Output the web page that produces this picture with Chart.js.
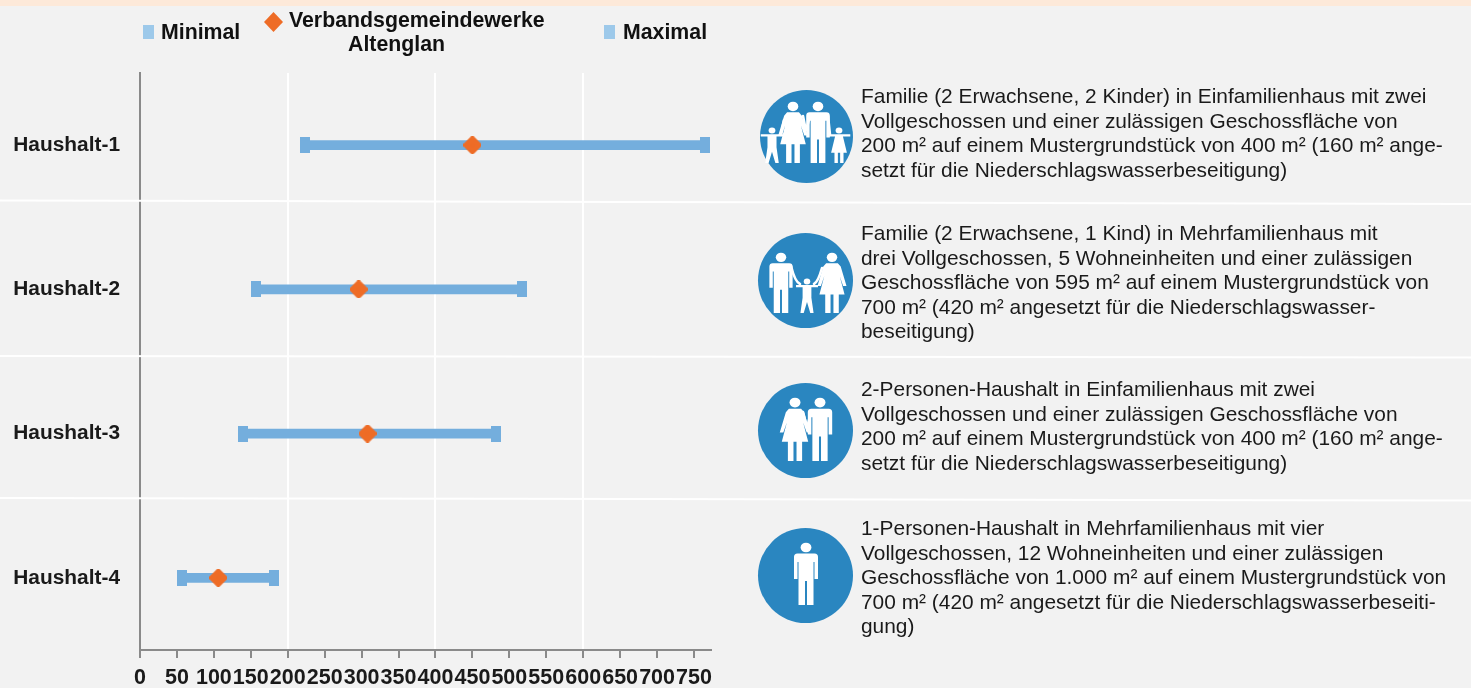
<!DOCTYPE html>
<html lang="de">
<head>
<meta charset="utf-8">
<title>Haushalte</title>
<script src="https://cdn.jsdelivr.net/npm/chart.js@4"></script>
<style>
    html, body { margin: 0; padding: 0; background: #f2f2f2; overflow: hidden; }
    #page { position: relative; width: 1471px; height: 688px; background: #f2f2f2; font-family: "Liberation Sans", Arial, sans-serif; }
    #strip { position: absolute; left: 0; top: 0; width: 1471px; height: 6px; background: #fde9d9; }
    #chart { position: absolute; left: 0; top: 0; }
    #overlay { position: absolute; left: 0; top: 0; }
    .txt { position: absolute; white-space: nowrap; line-height: 24px; font-size: 20.9px; color: #1a1a1a; }
    .leg { position: absolute; white-space: nowrap; line-height: 24px; font-size: 21.3px; font-weight: bold; color: #111; }
    .swatch { position: absolute; width: 11px; height: 14px; top: 25px; background: #9dc9ea; }
</style>
</head>
<body>
<div id="page">
    <div id="strip"></div>
    <canvas id="chart" width="1471" height="688"></canvas>
    <svg id="overlay" width="1471" height="688"></svg>
    <div class="swatch" style="left:143px"></div>
    <div class="leg" style="left:161px;top:20px">Minimal</div>
    <div class="leg" style="left:289px;top:8px">Verbandsgemeindewerke</div>
    <div class="leg" style="left:348px;top:32px">Altenglan</div>
    <div class="swatch" style="left:604px"></div>
    <div class="leg" style="left:623px;top:20px">Maximal</div>
</div>
<script>
// Values
const categories = ["Haushalt-1", "Haushalt-2", "Haushalt-3", "Haushalt-4"];
const minimalValues = [224, 157, 140, 57];
const maximalValues = [765, 517, 482, 182];
const altenglanValues = [450, 296, 308, 106];
const xTicks = [0, 50, 100, 150, 200, 250, 300, 350, 400, 450, 500, 550, 600, 650, 700, 750];

// Descriptions right of the chart, one entry per block
const descriptions = [
    ["Familie (2 Erwachsene, 2 Kinder) in Einfamilienhaus mit zwei",
     "Vollgeschossen und einer zulässigen Geschossfläche von",
     "200 m² auf einem Mustergrundstück von 400 m² (160 m² ange-",
     "setzt für die Niederschlagswasserbeseitigung)"],
    ["Familie (2 Erwachsene, 1 Kind) in Mehrfamilienhaus mit",
     "drei Vollgeschossen, 5 Wohneinheiten und einer zulässigen",
     "Geschossfläche von 595 m² auf einem Mustergrundstück von",
     "700 m² (420 m² angesetzt für die Niederschlagswasser-",
     "beseitigung)"],
    ["2-Personen-Haushalt in Einfamilienhaus mit zwei",
     "Vollgeschossen und einer zulässigen Geschossfläche von",
     "200 m² auf einem Mustergrundstück von 400 m² (160 m² ange-",
     "setzt für die Niederschlagswasserbeseitigung)"],
    ["1-Personen-Haushalt in Mehrfamilienhaus mit vier",
     "Vollgeschossen, 12 Wohneinheiten und einer zulässigen",
     "Geschossfläche von 1.000 m² auf einem Mustergrundstück von",
     "700 m² (420 m² angesetzt für die Niederschlagswasserbeseiti-",
     "gung)"],
];
const descriptionTops = [84, 221, 377, 516];

const page = document.getElementById("page");
descriptions.forEach((lines, b) => {
    lines.forEach((line, i) => {
        const el = document.createElement("div");
        el.className = "txt";
        el.style.left = "861px";
        el.style.top = (descriptionTops[b] + i * 24.5) + "px";
        el.textContent = line;
        page.appendChild(el);
    });
});

// Small end cap for the range bars, Chart.js takes a canvas as point style
function makeCap(color) {
    const c = document.createElement("canvas");
    c.width = 10;
    c.height = 16;
    const g = c.getContext("2d");
    g.fillStyle = color;
    g.fillRect(0, 0, 10, 16);
    return c;
}

// Rounded diamond for the Altenglan marker
function makeDiamond(color) {
    const c = document.createElement("canvas");
    c.width = 18;
    c.height = 18;
    const g = c.getContext("2d");
    g.fillStyle = color;
    g.strokeStyle = color;
    g.lineWidth = 6;
    g.lineJoin = "round";
    g.beginPath();
    g.moveTo(9, 3);
    g.lineTo(15, 9);
    g.lineTo(9, 15);
    g.lineTo(3, 9);
    g.closePath();
    g.fill();
    g.stroke();
    return c;
}
const cap = makeCap("#74aedd");
const diamond = makeDiamond("#ee6c26");

new Chart(document.getElementById("chart").getContext("2d"), {
    type: "bar",
    data: {
        labels: categories,
        datasets: [
            {
                type: "scatter",
                label: "Verbandsgemeindewerke Altenglan",
                data: categories.map((c, i) => ({ x: altenglanValues[i], y: c })),
                pointStyle: diamond,
                xAxisID: "x",
                yAxisID: "y",
                order: 0,
            },
            {
                type: "scatter",
                label: "Minimal",
                data: categories.map((c, i) => ({ x: minimalValues[i], y: c })),
                pointStyle: cap,
                xAxisID: "x",
                yAxisID: "y",
                order: 1,
            },
            {
                type: "scatter",
                label: "Maximal",
                data: categories.map((c, i) => ({ x: maximalValues[i], y: c })),
                pointStyle: cap,
                xAxisID: "x",
                yAxisID: "y",
                order: 1,
            },
            {
                label: "Spanne",
                data: categories.map((c, i) => [minimalValues[i], maximalValues[i]]),
                backgroundColor: "#74aedd",
                barThickness: 9,
                borderSkipped: false,
                order: 2,
            },
        ],
    },
    options: {
        indexAxis: "y",
        responsive: false,
        animation: false,
        layout: { padding: { left: 0, top: 73, right: 760, bottom: 0 } },
        plugins: { legend: { display: false }, tooltip: { enabled: false } },
        scales: {
            x: {
                type: "linear",
                min: 0,
                max: 773,
                afterBuildTicks: (scale) => { scale.ticks = xTicks.map((v) => ({ value: v })); },
                afterFit: (scale) => { scale.height = 38; },
                grid: {
                    color: (ctx) => (ctx.tick && ctx.tick.value > 0 && ctx.tick.value % 200 === 0 ? "#ffffff" : "rgba(0,0,0,0)"),
                    lineWidth: 2,
                    tickColor: "#8a8a8a",
                    tickWidth: 2,
                    tickLength: 8,
                },
                border: { color: "#8a8a8a", width: 2 },
                ticks: {
                    autoSkip: false,
                    maxRotation: 0,
                    padding: 7,
                    color: "#1a1a1a",
                    font: { family: "Liberation Sans", size: 21.5, weight: "bold" },
                },
            },
            y: {
                type: "category",
                afterFit: (scale) => { scale.width = 140; },
                grid: { drawOnChartArea: false, drawTicks: false },
                border: { color: "#8a8a8a", width: 2 },
                ticks: {
                    padding: 20,
                    color: "#1a1a1a",
                    font: { family: "Liberation Sans", size: 20.9, weight: "bold" },
                },
            },
        },
    },
});

// Row separators and the people icons, these sit on top of the chart
const man = '<ellipse cx="0" cy="4.5" rx="5.4" ry="4.8"/><path d="M-12 14Q-12 10.5 -8.5 10.5H8.5Q12 10.5 12 14V36H8.5V19H7.5V62H1V38H-1V62H-7.5V19H-8.5V36H-12Z"/>';
const woman = '<ellipse cx="0" cy="4.5" rx="5.4" ry="4.8"/><path d="M-6 10.5H6L9 14L15 34H11.5L8 24L13 43H7V62H1.5V43H-1.5V62H-7V43H-13L-8 24L-11.5 34H-15L-9 14Z"/>';
const boy = '<ellipse cx="0" cy="4.5" rx="6" ry="5.4"/><path d="M-20 11H20V15H8V34L12 62H6L0 42L-6 62H-12L-8 34V15H-20Z"/>';
const girl = '<ellipse cx="0" cy="4.5" rx="6" ry="5.4"/><path d="M-20 11H20V15H7L14 44H8V62H2V44H-2V62H-8V44H-14L-7 15H-20Z"/>';

function figure(shape, x, top, bottom) {
    const s = (bottom - top) / 62;
    return `<g fill="#fff" transform="translate(${x} ${top}) scale(${s})">${shape}</g>`;
}
// Arms that connect the figures
function arm(d) {
    return `<path d="${d}" fill="none" stroke="#fff" stroke-width="2.6" stroke-linecap="round"/>`;
}

const icons = [
    { cx: 806.5, cy: 136.5, r: 46.5, parts: [
        figure(woman, 793, 102, 163), figure(man, 818, 102, 163), figure(boy, 772, 128, 163), figure(girl, 839, 128, 163),
        arm("M803 116L806 131L810 116"), arm("M784 120L781 135"), arm("M828 116L830 135"),
    ] },
    { cx: 805.5, cy: 280.5, r: 47.5, parts: [
        figure(man, 781, 253, 313), figure(woman, 832, 253, 313), figure(boy, 807, 279, 313),
        arm("M791 266Q795 282 800 284"), arm("M822 268Q818 282 814 284"),
    ] },
    { cx: 805.5, cy: 430.5, r: 47.5, parts: [
        figure(woman, 795, 398, 461), figure(man, 820, 398, 461),
        arm("M803 412L807 428L811 412"),
    ] },
    { cx: 805.5, cy: 575.5, r: 47.5, parts: [figure(man, 806, 543, 605)] },
];

let svg = "";
[[200.5, 204], [356, 357.5], [498, 500.5]].forEach((l) => {
    svg += `<line x1="0" y1="${l[0]}" x2="1471" y2="${l[1]}" stroke="#fff" stroke-width="2"/>`;
});
icons.forEach((ic) => {
    svg += `<circle cx="${ic.cx}" cy="${ic.cy}" r="${ic.r}" fill="#2a86c0"/>` + ic.parts.join("");
});
// Legend diamond
svg += '<path d="M273.5 12L283 22L273.5 32L264 22Z" fill="#ee6c26"/>';
document.getElementById("overlay").innerHTML = svg;
</script>
</body>
</html>
